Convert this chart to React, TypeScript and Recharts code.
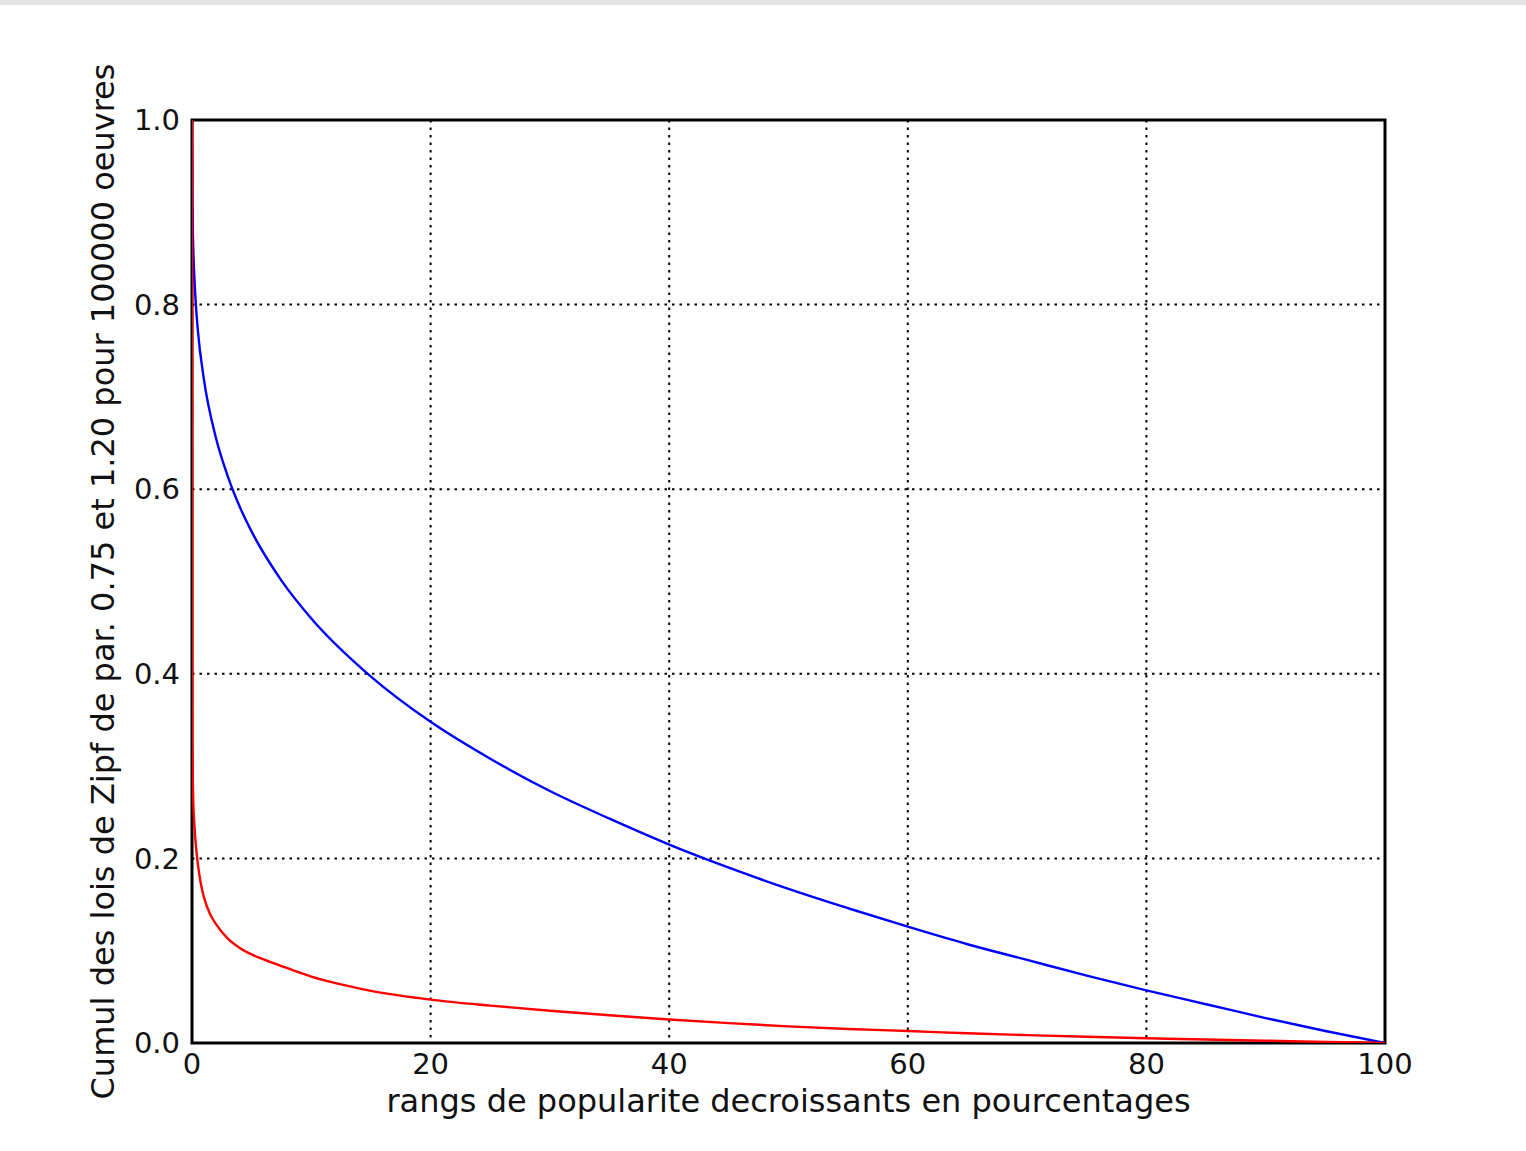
import React from "react";
import {
  LineChart,
  Line,
  XAxis,
  YAxis,
  CartesianGrid,
  ReferenceArea,
} from "recharts";

// rank percentages (x) and cumulative shares
const BLUE_X = [0, 0.01, 0.05, 0.1, 0.25, 0.5, 1, 2, 3, 4, 5, 7.5, 10, 15, 20, 25, 30, 35, 40, 45, 50, 55, 60, 65, 70, 75, 80, 85, 90, 95, 100];
const BLUE_Y = [1, 0.944, 0.893, 0.864, 0.816, 0.771, 0.719, 0.656, 0.614, 0.581, 0.554, 0.501, 0.46, 0.397, 0.348, 0.308, 0.273, 0.243, 0.215, 0.19, 0.167, 0.146, 0.126, 0.107, 0.09, 0.073, 0.057, 0.042, 0.027, 0.013, 0];

const RED_X = [0, 0.01, 0.03, 0.1, 0.2, 0.34, 0.5, 0.75, 1, 1.5, 2, 3, 4, 5, 6, 8, 10, 12.5, 15, 20, 25, 30, 35, 40, 45, 50, 55, 60, 65, 70, 75, 80, 85, 90, 95, 100];
const RED_Y = [1, 0.42, 0.33, 0.265, 0.236, 0.212, 0.193, 0.172, 0.158, 0.14, 0.129, 0.113, 0.103, 0.096, 0.0905, 0.081, 0.072, 0.0635, 0.0565, 0.047, 0.0405, 0.035, 0.03, 0.0255, 0.0215, 0.018, 0.0152, 0.013, 0.0105, 0.0085, 0.0067, 0.0052, 0.0038, 0.0025, 0.0012, 0];

const X_TICKS = [0, 20, 40, 60, 80, 100];
const Y_TICKS = [0, 0.2, 0.4, 0.6, 0.8, 1.0];

const X_LABEL = "rangs de popularite decroissants en pourcentages";
const Y_LABEL = "Cumul des lois de Zipf de par. 0.75 et 1.20 pour 100000 oeuvres";

const blueData = BLUE_X.map((p, i) => ({ p, y: BLUE_Y[i] }));
const redData = RED_X.map((p, i) => ({ p, y: RED_Y[i] }));

const FONT = "'DejaVu Sans', sans-serif";
const INK = "#111";

const YLabel = (props: any) => {
  const vb = props.viewBox;
  const cx = vb.x + 114;
  const cy = vb.y + vb.height / 2;
  return (
    <text
      x={cx}
      y={cy}
      transform={`rotate(-90 ${cx} ${cy})`}
      textAnchor="middle"
      fontSize={32}
      fontFamily={FONT}
      fill={INK}
    >
      {Y_LABEL}
    </text>
  );
};

export default function App() {
  return (
    <div
      style={{
        position: "absolute",
        left: 0,
        top: 0,
        width: 1526,
        height: 1151,
        background: "#fff",
        fontFamily: FONT,
      }}
    >
      <div style={{ height: 5, background: "#e5e5e5" }} />
      <div style={{ position: "absolute", left: 0, top: 0 }}>
        <LineChart
          width={1526}
          height={1151}
          margin={{ top: 120, right: 141, bottom: 0, left: 0 }}
        >
          <CartesianGrid
            stroke="#000"
            strokeWidth={2}
            strokeDasharray="2.5 5"
          />
          <XAxis
            dataKey="p"
            type="number"
            domain={[0, 100]}
            ticks={X_TICKS}
            height={108}
            axisLine={false}
            tickLine={false}
            tickSize={0}
            tickMargin={10}
            tick={{ fill: INK, fontSize: 29, fontFamily: FONT }}
            allowDataOverflow
            label={{
              value: X_LABEL,
              position: "insideBottom",
              offset: 39,
              fill: INK,
              fontSize: 32,
              fontFamily: FONT,
            }}
          />
          <YAxis
            type="number"
            domain={[0, 1]}
            ticks={Y_TICKS}
            width={192}
            axisLine={false}
            tickLine={false}
            tickSize={0}
            tickMargin={12}
            tick={{ fill: INK, fontSize: 29, fontFamily: FONT }}
            tickFormatter={(v: number) => v.toFixed(1)}
            allowDataOverflow
            label={{ content: YLabel }}
          />
          <Line
            data={blueData}
            dataKey="y"
            type="monotone"
            stroke="#0000ff"
            strokeWidth={2.4}
            dot={false}
            activeDot={false}
            isAnimationActive={false}
          />
          <Line
            data={redData}
            dataKey="y"
            type="monotone"
            stroke="#ff0000"
            strokeWidth={2.4}
            dot={false}
            activeDot={false}
            isAnimationActive={false}
          />
          <ReferenceArea
            x1={0}
            x2={100}
            y1={0}
            y2={1}
            fill="none"
            stroke="#000"
            strokeWidth={3}
            ifOverflow="visible"
          />
        </LineChart>
      </div>
    </div>
  );
}
